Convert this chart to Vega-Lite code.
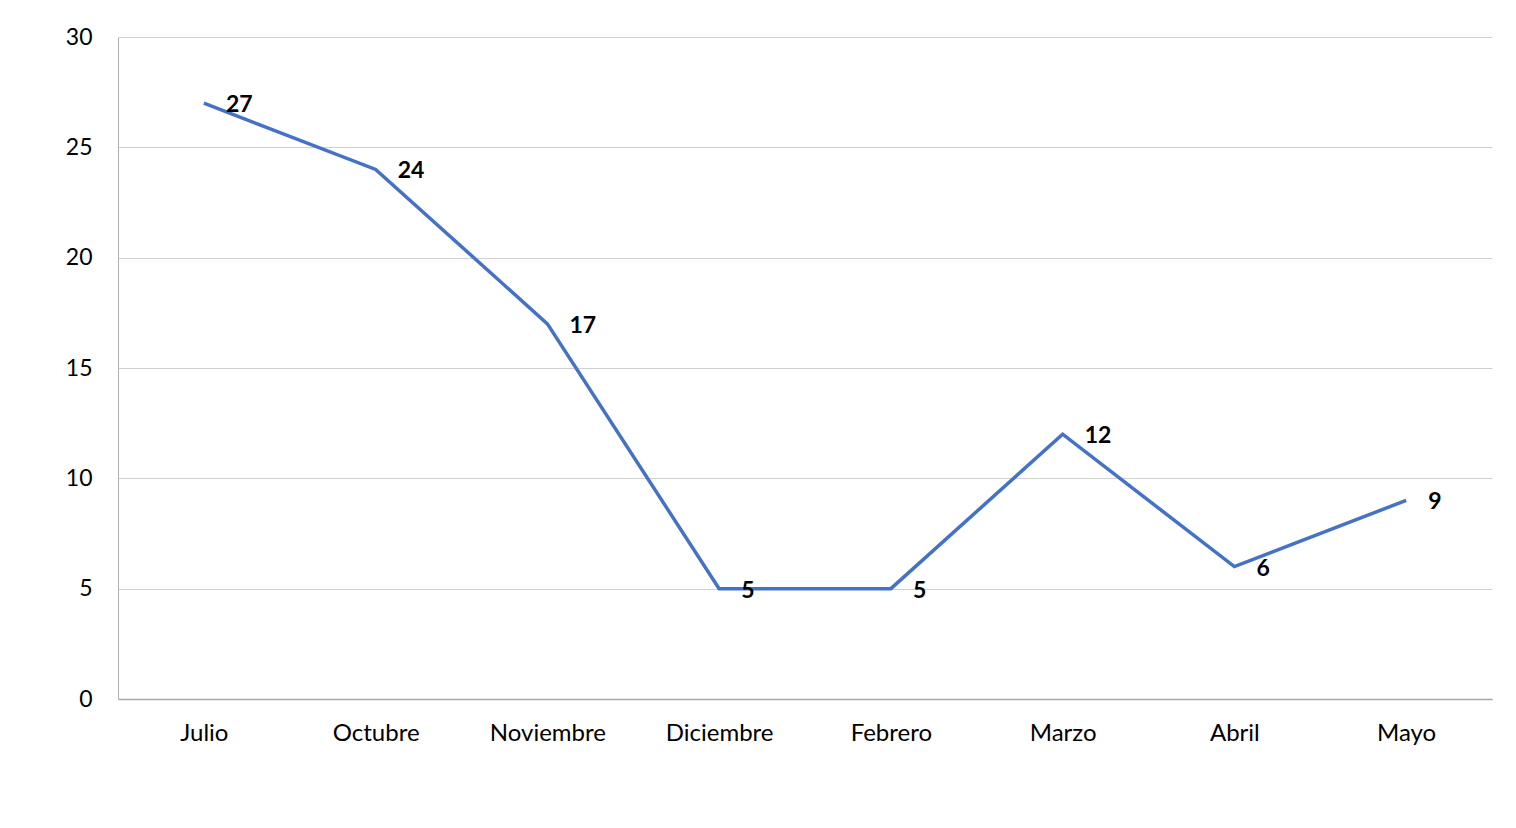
{
  "$schema": "https://vega.github.io/schema/vega-lite/v6.json",
  "autosize": {"type": "none"},
  "width": 1374,
  "height": 662,
  "padding": {"left": 118, "top": 37, "right": 24, "bottom": 129},
  "background": "white",
  "config": {
    "view": {"stroke": null},
    "font": "Lato"
  },
  "data": {
    "values": [
      {"mes": "Julio", "valor": 27},
      {"mes": "Octubre", "valor": 24},
      {"mes": "Noviembre", "valor": 17},
      {"mes": "Diciembre", "valor": 5},
      {"mes": "Febrero", "valor": 5},
      {"mes": "Marzo", "valor": 12},
      {"mes": "Abril", "valor": 6},
      {"mes": "Mayo", "valor": 9}
    ]
  },
  "encoding": {
    "x": {
      "field": "mes",
      "type": "nominal",
      "sort": null,
      "scale": {"type": "point", "padding": 0.5},
      "axis": {
        "title": null,
        "labelAngle": 0,
        "labelFont": "Lato",
        "labelFontSize": 24,
        "labelColor": "#000000",
        "labelPadding": 22,
        "ticks": false,
        "grid": false,
        "domainColor": "#a6a6a6",
        "domainWidth": 1.5
      }
    },
    "y": {
      "field": "valor",
      "type": "quantitative",
      "scale": {"domain": [0, 30], "nice": false, "zero": true},
      "axis": {
        "title": null,
        "values": [0, 5, 10, 15, 20, 25, 30],
        "labelFont": "Lato",
        "labelFontSize": 23,
        "labelColor": "#000000",
        "labelPadding": 26,
        "ticks": false,
        "grid": true,
        "gridColor": "#d0d0d0",
        "gridWidth": 1,
        "domainColor": "#b0b0b0",
        "domainWidth": 1
      }
    }
  },
  "layer": [
    {
      "mark": {"type": "line", "color": "#4472C4", "strokeWidth": 3.5}
    },
    {
      "mark": {
        "type": "text",
        "align": "left",
        "baseline": "middle",
        "dx": 22,
        "dy": 2,
        "font": "Lato",
        "fontSize": 23,
        "fontWeight": "bold",
        "color": "#000000"
      },
      "encoding": {"text": {"field": "valor", "type": "quantitative"}}
    }
  ]
}
